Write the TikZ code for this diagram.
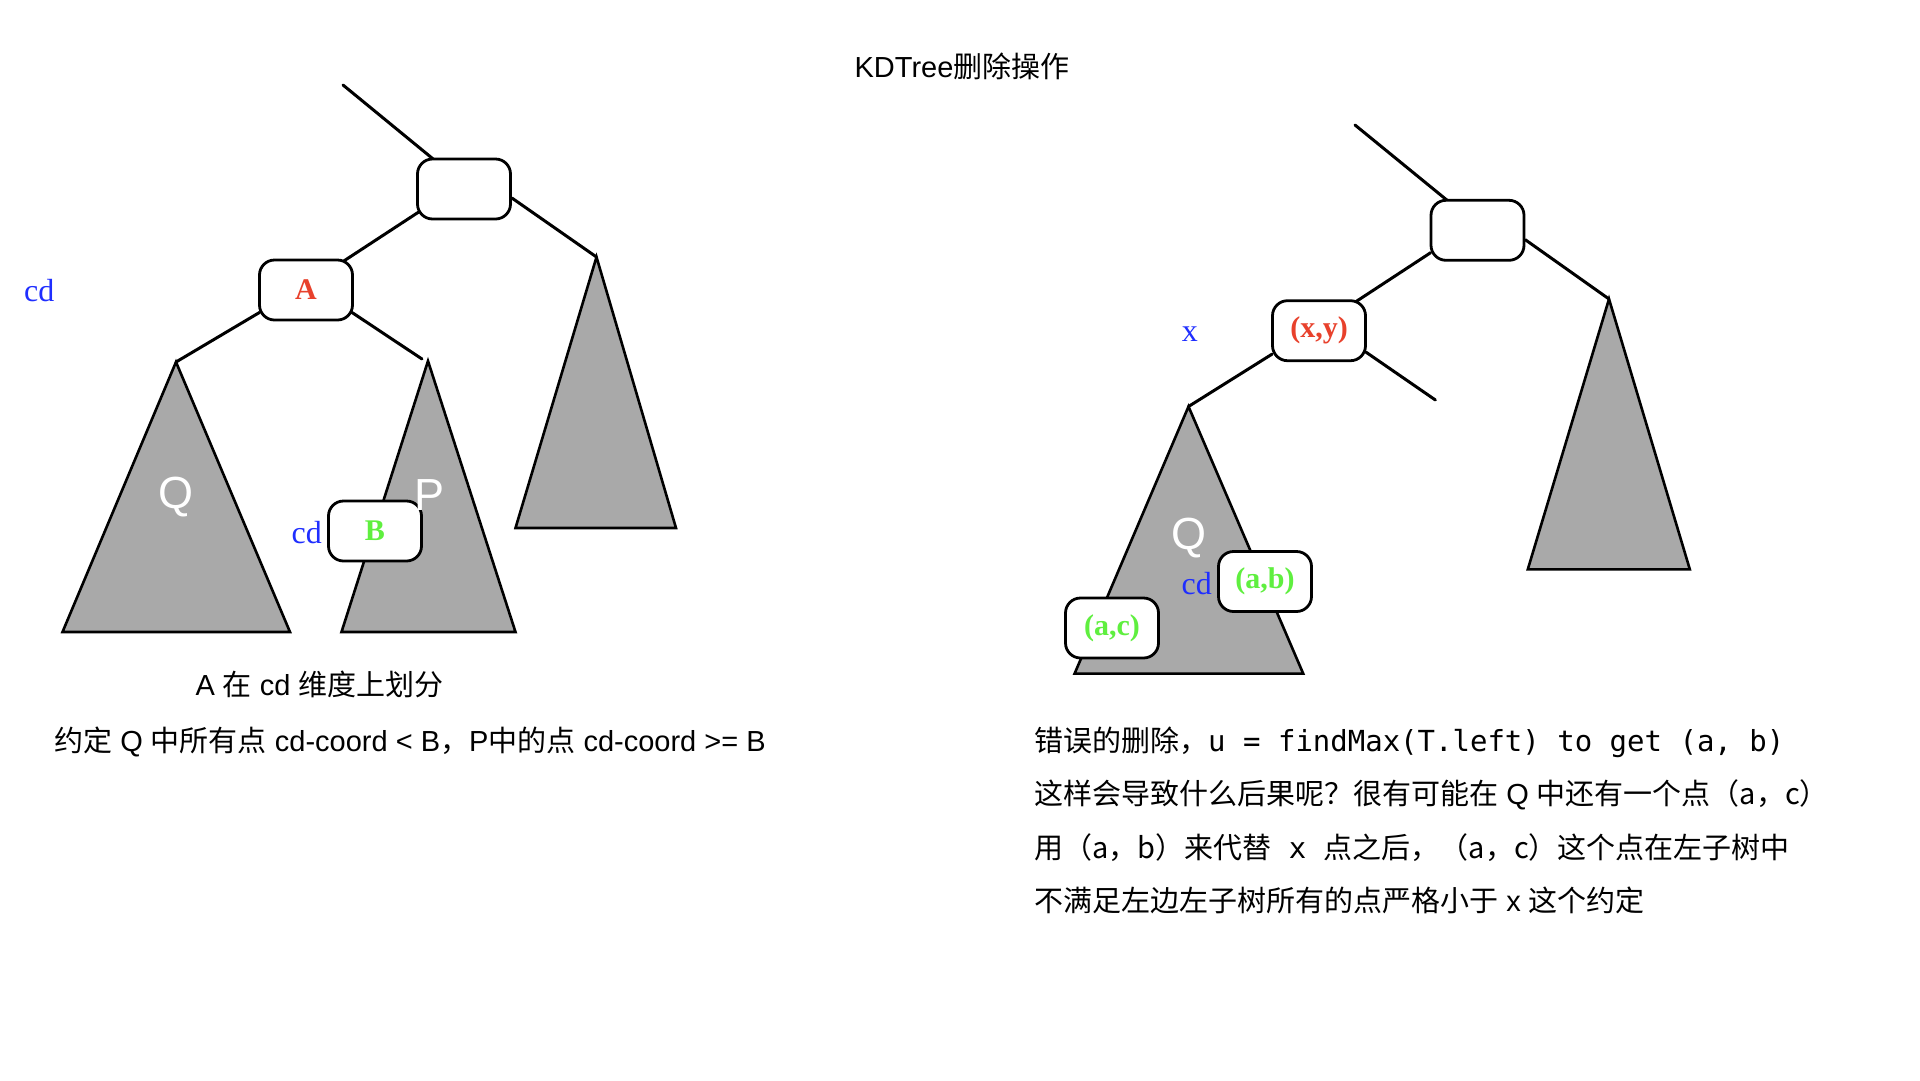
\documentclass[tikz,border=0pt]{standalone}
\usepackage{fontspec}
\setmainfont{Liberation Sans}
\newfontfamily\cjk{Noto Sans CJK SC}
\newfontfamily\monof{DejaVu Sans Mono}
\newfontfamily\serifl{Liberation Serif}
\usetikzlibrary{calc}
\pgfdeclarelayer{bg}
\pgfsetlayers{bg,main}
\definecolor{lblred}{HTML}{E8412C}
\definecolor{lblgreen}{HTML}{5FEF3F}
\definecolor{lblblue}{HTML}{1F2EFF}
\definecolor{trigray}{HTML}{A9A9A9}
\newcommand{\C}[1]{{\cjk #1}}
\begin{document}
\begin{tikzpicture}[x=1pt,y=-1pt,
 treenode/.style={draw=black, line width=2.8pt, fill=white, rounded corners=15pt, minimum width=93pt, minimum height=60pt, inner sep=0pt, font=\serifl\bfseries\fontsize{30}{33}\selectfont},
 edge/.style={line width=3pt, line cap=round},
 subtree/.style={draw=black, fill=trigray, line width=2.6pt, line join=miter},
 dimlbl/.style={text=lblblue, font=\serifl\fontsize{32}{35}\selectfont, inner sep=0pt},
 treelbl/.style={text=white, font=\fontsize{45}{48}\selectfont, inner sep=0pt},
 txt/.style={font=\fontsize{29}{34}\selectfont, inner sep=0pt, anchor=west},
]
\useasboundingbox (0,0) rectangle (1920,1080);

% tree nodes
\node[treenode] (r1) at (464,189) {};
\node[treenode,text=lblred] (a1) at (306,290) {A};
\node[treenode,text=lblgreen] (b1) at (375,531) {B};
\node[treenode] (r2) at (1477.5,230.3) {};
\node[treenode,text=lblred] (x2) at (1319,330.7) {(x,y)};
\node[treenode,text=lblgreen] (ab) at (1265,581.5) {(a,b)};
\node[treenode,text=lblgreen] (ac) at (1112,628) {(a,c)};

% free ends / apexes
\coordinate (topL) at (343,85);
\coordinate (qlA) at (176,362);
\coordinate (plA) at (428,361);
\coordinate (rlA) at (596.5,257);
\coordinate (plEnd) at (422,359);
\coordinate (topR) at (1355,125);
\coordinate (qrA) at (1188.5,406.5);
\coordinate (rrA) at (1609,299);
\coordinate (xrEnd) at (1435.4,400);

\begin{pgfonlayer}{bg}
% subtrees
\draw[subtree] (qlA) -- (62.5,632) -- (290,632) -- cycle;
\draw[subtree] (plA) -- (341.5,632) -- (515.5,632) -- cycle;
\draw[subtree] (rlA) -- (515.5,528) -- (676,528) -- cycle;
\draw[subtree] (qrA) -- (1074.6,673.6) -- (1303.2,673.6) -- cycle;
\draw[subtree] (rrA) -- (1527.8,569.3) -- (1689.8,569.3) -- cycle;
% edges left
\draw[edge] (topL) -- ($(r1.north west)+(19,3)$);
\draw[edge] ($(r1.south west)+(2,-8)$) -- ($(a1.north east)+(-11,3)$);
\draw[edge] ($(r1.east)+(0,9)$) -- (rlA);
\draw[edge] ($(a1.south west)+(1.5,-9)$) -- (qlA);
\draw[edge] ($(a1.south east)+(-2,-9)$) -- (plEnd);
% edges right
\draw[edge] (topR) -- ($(r2.north west)+(19.5,3)$);
\draw[edge] ($(r2.south west)+(1,-9)$) -- ($(x2.north east)+(-12,3)$);
\draw[edge] ($(r2.east)+(0,9.5)$) -- (rrA);
\draw[edge] ($(x2.south west)+(1,-8)$) -- (qrA);
\draw[edge] ($(x2.south east)+(-1,-10)$) -- (xrEnd);
\end{pgfonlayer}

% labels
\node[dimlbl] (cdL) at (39.3,291) {cd};
\node[dimlbl, anchor=east] (cdB) at ($(b1.west)+(-5,2)$) {cd};
\node[treelbl] (qL) at (176.3,497) {Q};
\node[treelbl] (pL) at (429.5,495) {P};
\node[dimlbl] (xR) at (1189.8,333.7) {x};
\node[treelbl] (qR) at (1188.5,538.5) {Q};
\node[dimlbl, anchor=east] (cdR) at ($(ab.west)+(-5,2)$) {cd};

% texts
\node[txt, anchor=center] (title) at (962,66) {KDTree\C{删除操作}};
\node[txt, anchor=center] (l1) at (319.6,684.5) {A \C{在} cd \C{维度上划分}};
\node[txt] (l2) at (54,742) {\C{约定} Q \C{中所有点} cd-coord < B\C{，}P\C{中的点} cd-coord >= B};
\node[txt] (t1) at (1034,742) {\C{错误的删除，}{\monof u = findMax(T.left) to get (a, b)}};
\node[txt] (t2) at (1034,795) {\C{这样会导致什么后果呢？很有可能在} Q \C{中还有一个点（a，c）}};
\node[txt] (t3) at (1034,847.5) {\C{用（a，b）来代替}{\monof\ x\ }\C{点之后，（a，c）这个点在左子树中}};
\node[txt] (t4) at (1034,900) {\C{不满足左边左子树所有的点严格小于} x \C{这个约定}};
\end{tikzpicture}
\end{document}
